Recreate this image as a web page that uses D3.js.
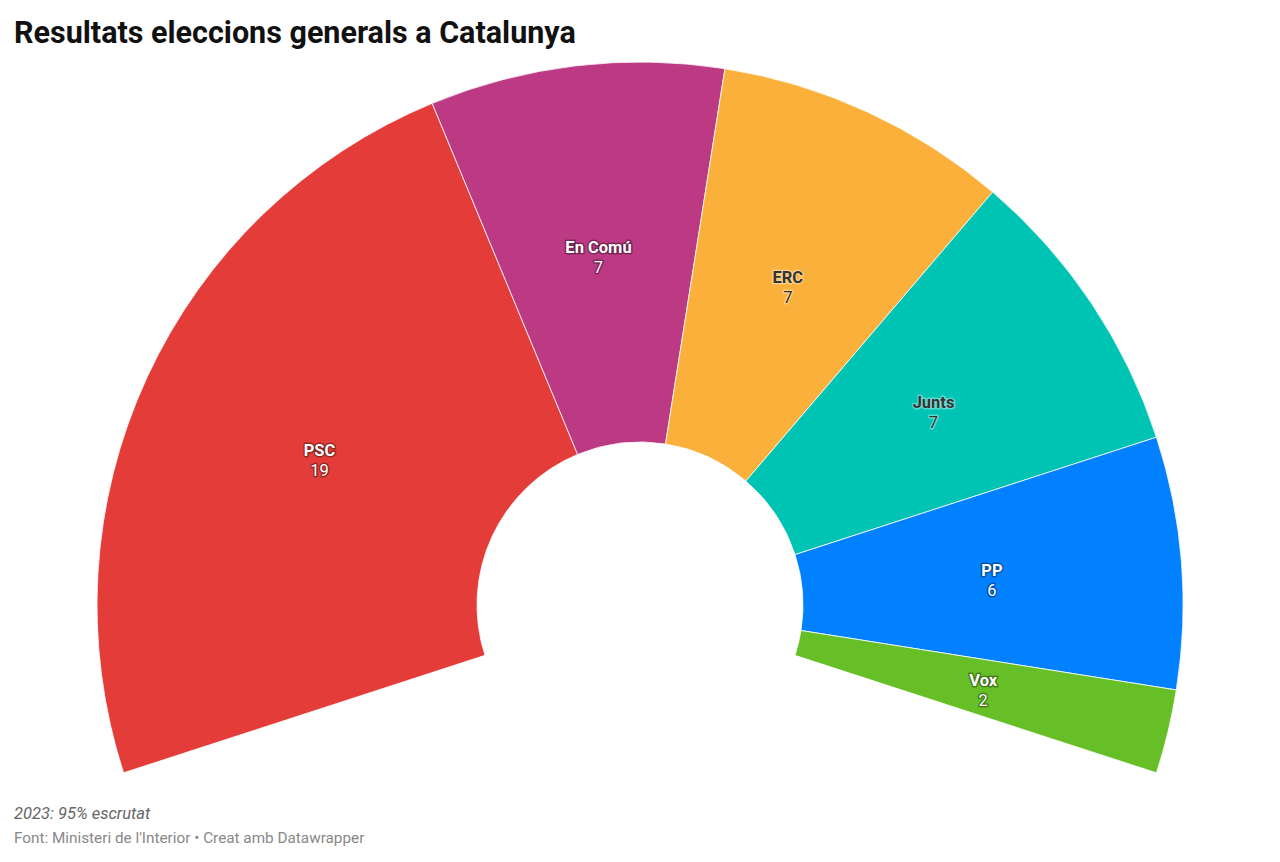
<!DOCTYPE html>
<html><head><meta charset="utf-8">
<script src="https://cdn.jsdelivr.net/npm/d3@7"></script>
<style>
body{margin:0;background:#fff;font-family:Roboto,"Noto Sans",sans-serif;}
</style></head>
<body><svg id="c" width="1280" height="862"></svg>
<script>
const parties = ["PSC","En Comú","ERC","Junts","PP","Vox"];
const seats = [19,7,7,7,6,2];
const colors = ["#e43d39","#bc3983","#fbb03b","#00c4b3","#0180ff","#66bf26"];
const darkText = [false,false,true,true,false,false];

const svg = d3.select("#c");
svg.append("text").attr("x",14).attr("y",43).attr("font-size",30.5).attr("font-weight",700)
  .attr("fill","#111").text("Resultats eleccions generals a Catalunya");
svg.append("text").attr("x",14).attr("y",819).attr("font-size",16.5).attr("font-style","italic")
  .attr("fill","#666").text("2023: 95% escrutat");
svg.append("text").attr("x",14).attr("y",843).attr("font-size",15.3)
  .attr("fill","#888").text("Font: Ministeri de l'Interior • Creat amb Datawrapper");

const cx=640, cy=605, rOut=543, rIn=163;
const span = 108*Math.PI/180;
const pie = d3.pie().sort(null).startAngle(-span).endAngle(span);
const arcs = pie(seats);
const arc = d3.arc().innerRadius(rIn).outerRadius(rOut);
const g = svg.append("g").attr("transform",`translate(${cx},${cy})`);
g.selectAll("path").data(arcs).join("path")
  .attr("d",arc).attr("fill",(d,i)=>colors[i])
  .attr("stroke","#fff").attr("stroke-width",0.8);

const lab = g.selectAll("g.l").data(arcs).join("g").attr("class","l")
  .attr("transform",d=>`translate(${arc.centroid(d)})`);
lab.each(function(d,i){
  const s=d3.select(this);
  const fill = darkText[i] ? "#333" : "#fff";
  const halo = darkText[i] ? "rgba(255,255,255,0.35)" : "rgba(0,0,0,0.35)";
  [[parties[i],700,-1],[String(seats[i]),400,19]].forEach(([t,w,y])=>{
    s.append("text").attr("text-anchor","middle").attr("y",y).attr("font-size",16.5)
      .attr("font-weight",w).attr("stroke",halo).attr("stroke-width",3)
      .attr("stroke-linejoin","round").attr("fill",halo).text(t);
    s.append("text").attr("text-anchor","middle").attr("y",y).attr("font-size",16.5)
      .attr("font-weight",w).attr("fill",fill).text(t);
  });
});
</script></body></html>
